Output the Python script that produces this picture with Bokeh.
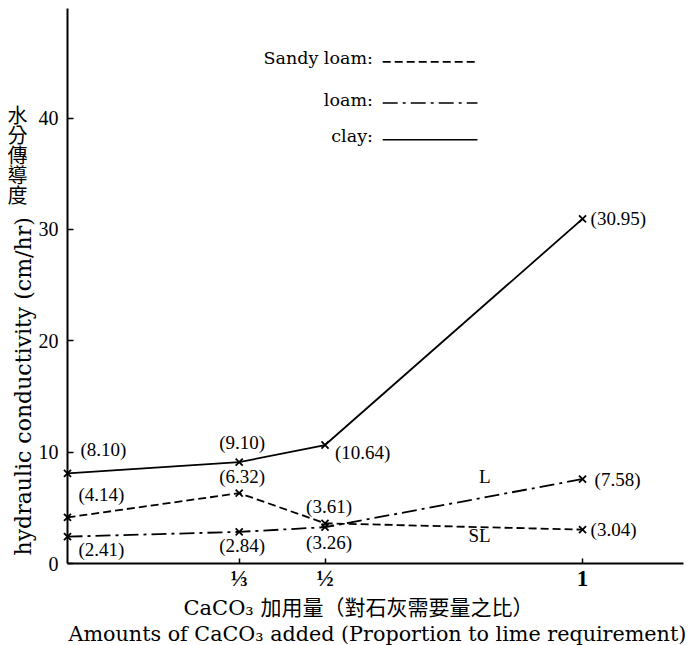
import math
from bokeh.plotting import figure
from bokeh.models import Range1d, FixedTicker, Label, ColumnDataSource, Title
from bokeh.core.properties import value, field
from bokeh.embed import file_html
from bokeh.resources import INLINE

# ---------------- data ----------------
x_vals = [0, 1/3, 1/2, 1]
clay = [8.10, 9.10, 10.64, 30.95]
sandy_loam = [4.14, 6.32, 3.61, 3.04]
loam = [2.41, 2.84, 3.26, 7.58]
x_ticks = [1/3, 1/2, 1]
x_tick_labels = ["⅓", "½", "1"]
y_ticks = [0, 10, 20, 30, 40]

# ---------------- styles ----------------
SERIF = "Liberation Serif"
WIDE = "DejaVu Serif"
CJK = "Noto Sans CJK TC"
MIXED = "DejaVu Serif, Noto Sans CJK TC"
LW = 1.8
DASH_SL = "8 4"
DASH_L = "15 5 3 5"
X_END = 1.196
Y_END = 49.84

p = figure(width=685, height=645, output_backend="svg", toolbar_location=None,
           x_range=Range1d(0, X_END), y_range=Range1d(0, Y_END),
           min_border_left=67, min_border_right=2, min_border_top=8,
           min_border_bottom=80)
p.grid.visible = False
p.outline_line_color = None
p.background_fill_color = "white"
p.border_fill_color = "white"

# axes
yax = p.yaxis[0]
yax.ticker = FixedTicker(ticks=y_ticks)
yax.minor_tick_line_color = None
yax.major_tick_in = 6
yax.major_tick_out = 0
yax.axis_line_width = 2
yax.axis_line_color = "black"
yax.major_tick_line_color = "black"
yax.major_tick_line_width = 1.5
yax.major_label_text_font = SERIF
yax.major_label_text_font_size = "20px"
yax.major_label_text_color = "black"
yax.major_label_standoff = 9

xax = p.xaxis[0]
xax.ticker = FixedTicker(ticks=x_ticks)
xax.major_label_overrides = {t: s for t, s in zip(x_ticks, x_tick_labels)}
xax.minor_tick_line_color = None
xax.major_tick_in = 5
xax.major_tick_out = 0
xax.axis_line_width = 2
xax.axis_line_color = "black"
xax.major_tick_line_color = "black"
xax.major_tick_line_width = 1.5
xax.major_label_text_font = SERIF
xax.major_label_text_font_size = "23px"
xax.major_label_text_font_style = "bold"
xax.major_label_text_color = "black"
xax.major_label_standoff = 2

# series lines and markers
p.line(x_vals, clay, line_color="black", line_width=LW)
p.line(x_vals, sandy_loam, line_color="black", line_width=LW, line_dash=DASH_SL)
p.line(x_vals, loam, line_color="black", line_width=LW, line_dash=DASH_L)
for ys in (clay, sandy_loam, loam):
    p.scatter(x_vals, ys, marker="x", size=10, line_color="black", line_width=1.8,
              level="overlay")

# data value labels
lab_x, lab_y, lab_t = [], [], []
for ys in (clay, sandy_loam, loam):
    for xv, yv in zip(x_vals, ys):
        lab_x.append(xv)
        lab_y.append(yv)
        lab_t.append("(%.2f)" % yv)
dx = [13, 3, 10, 8,   11, 3, 4, 8,   11, 3, 4, 12]
dy = [-24, -20, 7, 0, -23, -17, -17, 0, 13, 14, 15, 0]
al = ["left", "center", "left", "left",
      "left", "center", "center", "left",
      "left", "center", "center", "left"]
src = ColumnDataSource(dict(x=lab_x, y=lab_y, t=lab_t, dx=dx, dy=dy, al=al))
p.text(x="x", y="y", text="t", x_offset="dx", y_offset="dy", text_align=field("al"),
       text_baseline="middle", text_font=value(SERIF), text_font_size="19px",
       text_color="black", source=src)

# series tags
p.add_layout(Label(x=0.81, y=7.8, text="L", text_font=SERIF, text_font_size="19px",
                   text_color="black", text_align="center", text_baseline="middle"))
p.add_layout(Label(x=0.80, y=2.5, text="SL", text_font=SERIF, text_font_size="19px",
                   text_color="black", text_align="center", text_baseline="middle"))

# legend (text left, line sample right)
leg_names = ["Sandy loam:", "loam:", "clay:"]
leg_dash = [DASH_SL, DASH_L, "solid"]
leg_y = [45.35, 41.65, 38.35]
for name, dsh, ly in zip(leg_names, leg_dash, leg_y):
    p.add_layout(Label(x=0.593, y=ly, text=name, text_font=WIDE, text_font_size="17.5px",
                       text_color="black", text_align="right", text_baseline="middle"))
    p.segment(x0=[0.612], y0=[ly - 0.3], x1=[0.796], y1=[ly - 0.3],
              line_color="black", line_width=1.6, line_dash=dsh)

# vertical Chinese y title (stacked characters)
p.text(x=[-0.097], y=[41.6], text=["水\n分\n傳\n導\n度"], text_font=value(CJK),
       text_font_size="20px", text_line_height=0.69, text_align="center",
       text_baseline="top", text_color="black", level="overlay")

# English y title
p.add_layout(Title(text="hydraulic conductivity (cm/hr)", align="left", offset=8,
                   text_font=WIDE, text_font_size="22px", text_font_style="normal",
                   text_color="black", standoff=0), "left")

# x titles
p.add_layout(Title(text="CaCO₃ 加用量（對石灰需要量之比）", align="left", offset=116,
                   text_font=MIXED, text_font_size="21px", text_font_style="normal",
                   text_color="black", standoff=0), "below")
p.add_layout(Title(text="Amounts of CaCO₃ added (Proportion to lime requirement)",
                   align="left", offset=1, text_font=WIDE, text_font_size="20.7px",
                   text_font_style="normal", text_color="black", standoff=0), "below")

open("out.html", "w").write(file_html(p, INLINE))
